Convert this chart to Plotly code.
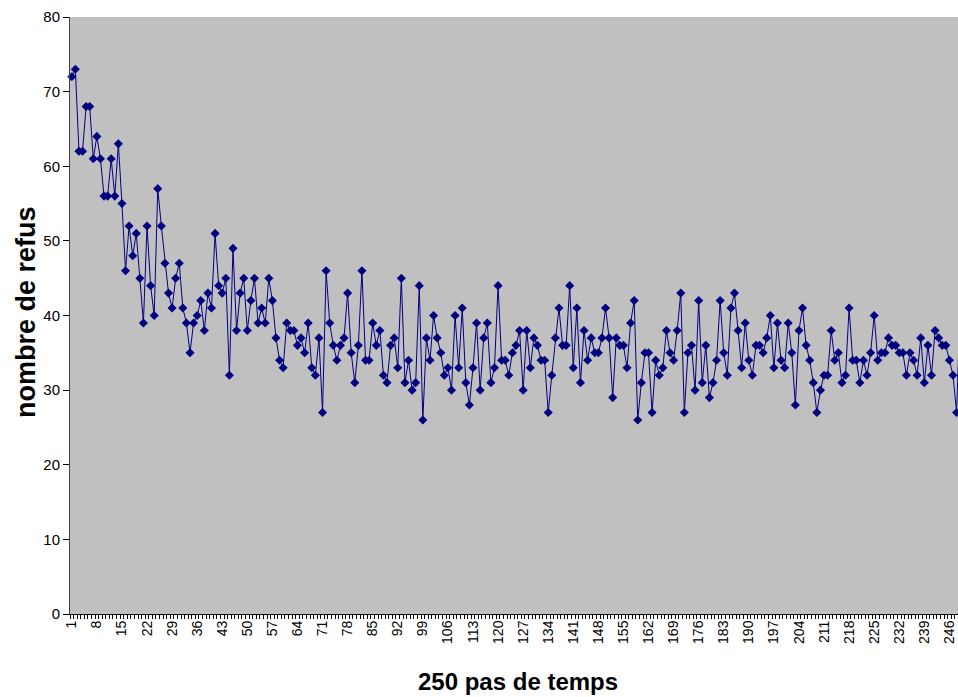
import plotly.graph_objects as go

steps = list(range(1, 251))
refus = [
    72, 73, 62, 62, 68, 68, 61, 64, 61, 56, 56, 61, 56, 63, 55, 46, 52, 48, 51, 45, 39,
    52, 44, 40, 57, 52, 47, 43, 41, 45, 47, 41, 39, 35, 39, 40, 42, 38, 43, 41, 51, 44,
    43, 45, 32, 49, 38, 43, 45, 38, 42, 45, 39, 41, 39, 45, 42, 37, 34, 33, 39, 38, 38,
    36, 37, 35, 39, 33, 32, 37, 27, 46, 39, 36, 34, 36, 37, 43, 35, 31, 36, 46, 34, 34,
    39, 36, 38, 32, 31, 36, 37, 33, 45, 31, 34, 30, 31, 44, 26, 37, 34, 40, 37, 35, 32,
    33, 30, 40, 33, 41, 31, 28, 33, 39, 30, 37, 39, 31, 33, 44, 34, 34, 32, 35, 36, 38,
    30, 38, 33, 37, 36, 34, 34, 27, 32, 37, 41, 36, 36, 44, 33, 41, 31, 38, 34, 37, 35,
    35, 37, 41, 37, 29, 37, 36, 36, 33, 39, 42, 26, 31, 35, 35, 27, 34, 32, 33, 38, 35,
    34, 38, 43, 27, 35, 36, 30, 42, 31, 36, 29, 31, 34, 42, 35, 32, 41, 43, 38, 33, 39,
    34, 32, 36, 36, 35, 37, 40, 33, 39, 34, 33, 39, 35, 28, 38, 41, 36, 34, 31, 27, 30,
    32, 32, 38, 34, 35, 31, 32, 41, 34, 34, 31, 34, 32, 35, 40, 34, 35, 35, 37, 36, 36,
    35, 35, 32, 35, 34, 32, 37, 31, 36, 32, 38, 37, 36, 36, 34, 32, 27, 41, 35,
]
x_tick_vals = list(range(1, 251, 7))
x_tick_text = [str(v) for v in x_tick_vals]
y_tick_vals = list(range(0, 81, 10))

x_title = "250 pas de temps"
y_title = "nombre de refus"

navy = "#000080"
font_family = "Liberation Sans, Arial, sans-serif"

fig = go.Figure()
fig.add_trace(go.Scatter(
    x=steps, y=refus, mode="lines+markers",
    line=dict(color=navy, width=1),
    marker=dict(symbol="diamond", size=7, color=navy, line=dict(width=0)),
    cliponaxis=False,
    showlegend=False,
))

L, R, T, B = 70, 0, 17, 83
W, H = 958, 697
pw = W - L - R
ph = H - T - B

fig.update_layout(
    width=W, height=H,
    margin=dict(l=L, r=R, t=T, b=B, pad=0),
    paper_bgcolor="white",
    plot_bgcolor="#C0C0C0",
    font=dict(family=font_family, color="black"),
    xaxis=dict(
        range=[0.5, 248.4],
        tickmode="array", tickvals=x_tick_vals, ticktext=x_tick_text,
        tickangle=-90, tickfont=dict(size=14, family=font_family),
        ticks="", showgrid=False, zeroline=False,
        showline=True, linecolor="black", linewidth=1,
        minor=dict(ticks="outside", ticklen=4, dtick=1, tick0=0.5,
                   tickcolor="black", tickwidth=1, showgrid=False),
    ),
    yaxis=dict(
        range=[0, 80], tickmode="array", tickvals=y_tick_vals,
        tickfont=dict(size=15, family=font_family),
        ticks="outside", ticklen=6, tickcolor="black",
        showgrid=False, zeroline=False,
        showline=True, linecolor="#404040", linewidth=1,
    ),
    annotations=[
        dict(text=f"<b>{x_title}</b>", xref="paper", yref="paper",
             x=(518 - L) / pw, y=(T + ph - 681) / ph, xanchor="center", yanchor="middle",
             showarrow=False, font=dict(size=24, family=font_family, color="black")),
        dict(text=f"<b>{y_title}</b>", xref="paper", yref="paper",
             x=(26 - L) / pw, y=(T + ph - 312) / ph, xanchor="center", yanchor="middle",
             textangle=-90, showarrow=False,
             font=dict(size=27, family=font_family, color="black")),
    ],
)

fig.write_html(
    "out.html",
    config={"displayModeBar": False},
    post_script="document.body.style.margin='0';document.body.style.overflow='hidden';",
)
